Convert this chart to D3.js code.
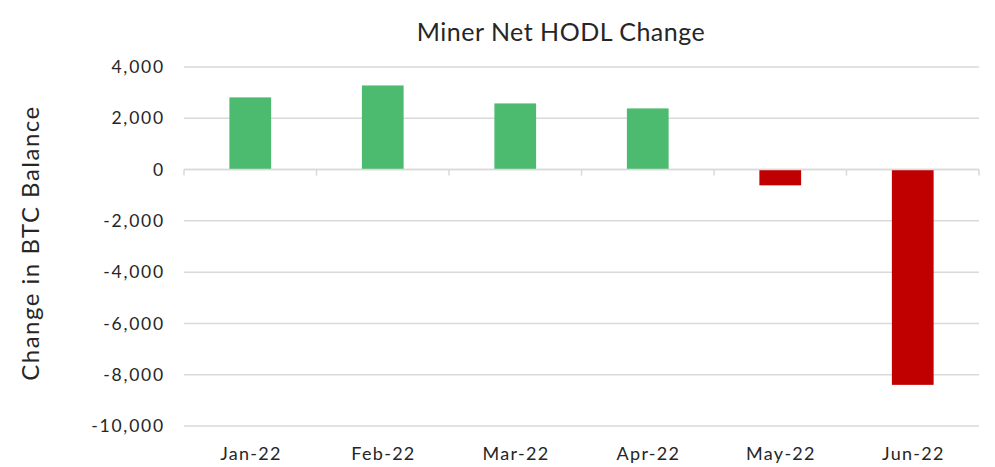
<!DOCTYPE html>
<html>
<head>
<meta charset="utf-8">
<script src="https://cdn.jsdelivr.net/npm/d3@7"></script>
<style>
  body { margin: 0; background: #fff; }
  text { font-family: Lato, "Open Sans", sans-serif; fill: #262626; }
</style>
</head>
<body>
<svg id="chart" width="995" height="467"></svg>
<script>
// data
var months = ["Jan-22", "Feb-22", "Mar-22", "Apr-22", "May-22", "Jun-22"];
var netChange = [2815, 3280, 2580, 2385, -615, -8395];
var yTicks = [4000, 2000, 0, -2000, -4000, -6000, -8000, -10000];

var margin = { top: 67, right: 16, bottom: 41, left: 184 }
  , width = 995 - margin.left - margin.right
  , height = 467 - margin.top - margin.bottom
  , posColor = "#4dbb6f"
  , negColor = "#c00000"
  , gridColor = "#d9d9d9"
  ;

var root = d3.select("#chart");
var svg = root.append("g")
  .attr("transform", "translate(" + margin.left + "," + margin.top + ")");

var x = d3.scaleBand().domain(months).range([0, width]).padding(0);
var y = d3.scaleLinear().domain([-10000, 4000]).range([height, 0]);
var barW = x.bandwidth() * 0.315;
var fmt = d3.format(",");

// gridlines
svg.append("g").selectAll("line").data(yTicks).enter().append("line")
  .attr("x1", 0).attr("x2", width)
  .attr("y1", function(d) { return y(d); })
  .attr("y2", function(d) { return y(d); })
  .style("stroke", gridColor)
  .style("stroke-width", 1.5);

// y axis labels (plain hyphen for minus, like the original)
var yAxis = d3.axisLeft(y).tickValues(yTicks)
  .tickFormat(function(d) { return fmt(d).replace("\u2212", "-"); })
  .tickSize(0).tickPadding(19);
svg.append("g").attr("class", "y axis").call(yAxis)
  .call(function(g) { g.select(".domain").remove(); })
  .selectAll("text")
  .style("font-size", "17.5px")
  .style("letter-spacing", "1.8px")
  .style("fill", "#262626");

// bars
svg.selectAll("rect.bar").data(months).enter().append("rect")
  .attr("class", "bar")
  .attr("x", function(d) { return x(d) + (x.bandwidth() - barW) / 2; })
  .attr("width", barW)
  .attr("y", function(d, i) { return y(Math.max(0, netChange[i])); })
  .attr("height", function(d, i) { return Math.abs(y(netChange[i]) - y(0)); })
  .style("fill", function(d, i) { return netChange[i] >= 0 ? posColor : negColor; });

// zero axis with category ticks at band edges
var edges = months.map(function(d) { return x(d); }).concat([width]);
svg.append("line")
  .attr("x1", 0).attr("x2", width)
  .attr("y1", y(0)).attr("y2", y(0))
  .style("stroke", gridColor).style("stroke-width", 1.5);
svg.append("g").selectAll("line").data(edges).enter().append("line")
  .attr("x1", function(d) { return d; }).attr("x2", function(d) { return d; })
  .attr("y1", y(0)).attr("y2", y(0) + 6)
  .style("stroke", gridColor).style("stroke-width", 1.5);

// category labels along the bottom
svg.append("g").selectAll("text").data(months).enter().append("text")
  .attr("x", function(d) { return x(d) + x.bandwidth() / 2 + 0.7; })
  .attr("y", height + 34)
  .attr("text-anchor", "middle")
  .style("font-size", "18px")
  .style("letter-spacing", "1.3px")
  .text(function(d) { return d; });

// title
root.append("text")
  .attr("x", 561).attr("y", 41)
  .attr("text-anchor", "middle")
  .style("font-size", "25px")
  .style("letter-spacing", "0.5px")
  .text("Miner Net HODL Change");

// y axis title
root.append("text")
  .attr("transform", "translate(39," + 243 + ") rotate(-90)")
  .attr("text-anchor", "middle")
  .style("font-size", "24px")
  .style("letter-spacing", "1.5px")
  .text("Change in BTC Balance");
</script>
</body>
</html>
